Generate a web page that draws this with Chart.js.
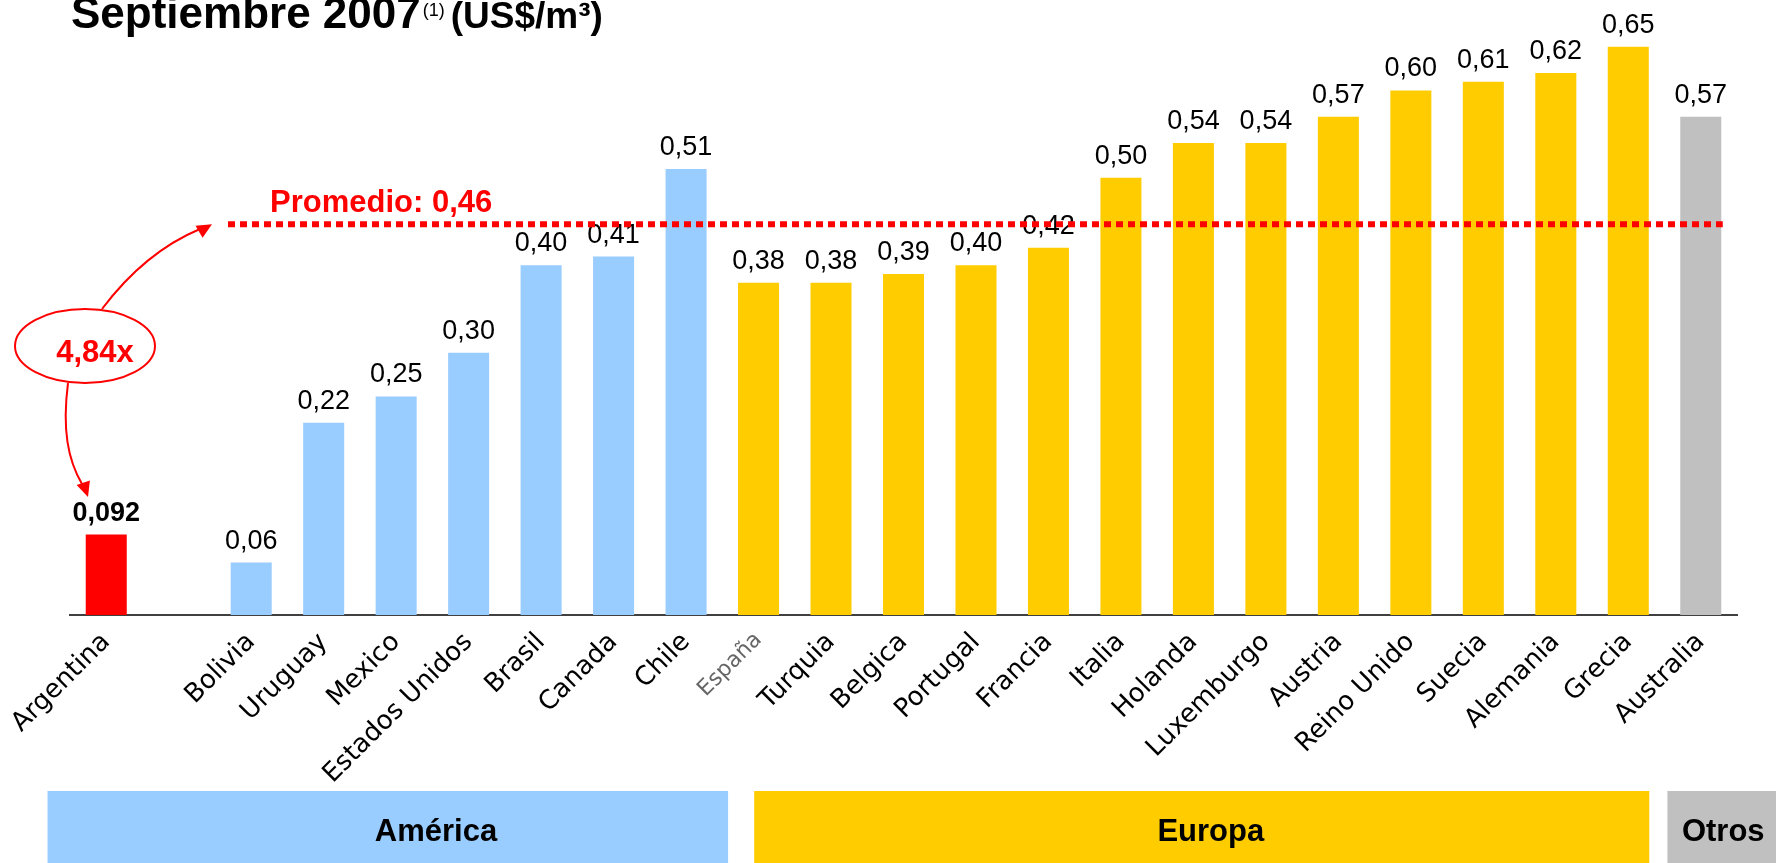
<!DOCTYPE html>
<html>
<head>
<meta charset="utf-8">
<script src="https://cdn.jsdelivr.net/npm/chart.js@4/dist/chart.umd.min.js"></script>
<style>
  html, body { margin: 0; padding: 0; background: #fff; }
  #wrap { width: 1776px; height: 863px; position: relative; }
</style>
</head>
<body>
<div id="wrap"><canvas id="myChart"></canvas></div>
<script>
// precio del gas natural por pais, septiembre 2007 (US$/m3)
const paises = ["Argentina", "", "Bolivia", "Uruguay", "Mexico", "Estados Unidos", "Brasil", "Canada", "Chile",
  "España", "Turquia", "Belgica", "Portugal", "Francia", "Italia", "Holanda", "Luxemburgo", "Austria",
  "Reino Unido", "Suecia", "Alemania", "Grecia", "Australia"];
const precios = [0.092, null, 0.06, 0.22, 0.25, 0.30, 0.40, 0.41, 0.51,
  0.38, 0.38, 0.39, 0.40, 0.42, 0.50, 0.54, 0.54, 0.57,
  0.60, 0.61, 0.62, 0.65, 0.57];
const grupo = ["ARG", null, "AME", "AME", "AME", "AME", "AME", "AME", "AME",
  "EUR", "EUR", "EUR", "EUR", "EUR", "EUR", "EUR", "EUR", "EUR",
  "EUR", "EUR", "EUR", "EUR", "OTR"];
const colores = { ARG: "#ff0000", AME: "#99ccff", EUR: "#ffcc00", OTR: "#c0c0c0" };

const promedioTexto = "Promedio: 0,46";
const promedioLinea = 0.447; // altura a la que esta dibujada la linea
const multiplo = "4,84x";

// bandas de regiones (indices de categoria, fraccionales)
const regiones = [
  { nombre: "América", desde: -0.81, hasta: 8.58, texto: 4.55, color: "#99ccff" },
  { nombre: "Europa", desde: 8.94, hasta: 21.29, texto: 15.24, color: "#ffcc00" },
  { nombre: "Otros", desde: 21.54, hasta: 23.2, texto: 22.31, color: "#c0c0c0" },
];

const FONT = "Arial, 'Liberation Sans', sans-serif";
const FONT_EJE = "'DejaVu Sans', Arial, sans-serif";

function formato(v) {
  const dec = Math.abs(v * 100 - Math.round(v * 100)) > 1e-6 ? 3 : 2;
  return v.toFixed(dec).replace(".", ",");
}

function flecha(ctx, x, y, ang) {
  ctx.save();
  ctx.translate(x, y);
  ctx.rotate(ang);
  ctx.beginPath();
  ctx.moveTo(0, 0);
  ctx.lineTo(-15, -7);
  ctx.lineTo(-15, 7);
  ctx.closePath();
  ctx.fill();
  ctx.restore();
}

const extras = {
  id: "extras",
  afterDatasetsDraw(chart) {
    const ctx = chart.ctx;
    const y = chart.scales.y;
    const meta = chart.getDatasetMeta(0);

    // etiquetas de valores
    ctx.save();
    ctx.textAlign = "center";
    ctx.textBaseline = "alphabetic";
    meta.data.forEach((bar, i) => {
      const v = precios[i];
      if (v == null) return;
      ctx.fillStyle = "#000";
      ctx.font = (i === 0 ? "bold 27px " : "27px ") + FONT;
      ctx.fillText(formato(v), bar.x, bar.y - 14);
    });
    ctx.restore();

    // linea de promedio
    const yp = y.getPixelForValue(promedioLinea);
    ctx.save();
    ctx.strokeStyle = "#ff0000";
    ctx.lineWidth = 6;
    ctx.setLineDash([7, 5]);
    ctx.beginPath();
    ctx.moveTo(228, yp);
    ctx.lineTo(meta.data[meta.data.length - 1].x + 22, yp);
    ctx.stroke();
    ctx.setLineDash([]);
    ctx.fillStyle = "#ff0000";
    ctx.font = "bold 31px " + FONT;
    ctx.textAlign = "left";
    ctx.fillText(promedioTexto, 270, yp - 12);

    // elipse con multiplo
    ctx.lineWidth = 2;
    ctx.beginPath();
    ctx.ellipse(85, 346, 70, 37, 0, 0, Math.PI * 2);
    ctx.stroke();
    ctx.font = "bold 31px " + FONT;
    ctx.textAlign = "center";
    ctx.fillText(multiplo, 95, 362);

    // flecha hacia el promedio
    ctx.beginPath();
    ctx.moveTo(102, 309);
    ctx.quadraticCurveTo(145, 252, 200, 229);
    ctx.stroke();
    flecha(ctx, 212, yp, Math.atan2(-7, 12));

    // flecha hacia argentina
    ctx.beginPath();
    ctx.moveTo(68, 383);
    ctx.bezierCurveTo(62, 430, 68, 460, 82, 484);
    ctx.stroke();
    flecha(ctx, 88, 497, Math.atan2(15, 5));
    ctx.restore();
  },
  afterDraw(chart) {
    const ctx = chart.ctx;
    const x = chart.scales.x;
    const paso = x.getPixelForValue(1) - x.getPixelForValue(0);
    const px = (f) => x.getPixelForValue(0) + f * paso;

    // titulo (cortado arriba)
    ctx.save();
    ctx.fillStyle = "#000";
    ctx.textAlign = "left";
    ctx.textBaseline = "alphabetic";
    ctx.font = "bold 44px " + FONT;
    const t1 = "Septiembre 2007";
    ctx.fillText(t1, 71, 28);
    let cx = 71 + ctx.measureText(t1).width + 2;
    ctx.font = "18px " + FONT;
    ctx.fillText("(1)", cx, 16);
    cx += ctx.measureText("(1)").width + 6;
    ctx.font = "bold 37px " + FONT;
    ctx.fillText("(US$/m³)", cx, 28);

    // bandas de regiones
    regiones.forEach((r) => {
      ctx.fillStyle = r.color;
      ctx.fillRect(px(r.desde), 791, px(r.hasta) - px(r.desde), 72);
      ctx.fillStyle = "#000";
      ctx.font = "bold 31px " + FONT;
      ctx.textAlign = "center";
      ctx.fillText(r.nombre, px(r.texto), 841);
    });
    ctx.restore();
  },
};

new Chart(document.getElementById("myChart"), {
  type: "bar",
  data: {
    labels: paises,
    datasets: [
      {
        data: precios,
        backgroundColor: grupo.map((g) => (g ? colores[g] : "transparent")),
        categoryPercentage: 1,
        barPercentage: 0.566,
      },
    ],
  },
  options: {
    responsive: true,
    maintainAspectRatio: false,
    animation: false,
    layout: { padding: { left: 70, right: 39, top: 3, bottom: 0 } },
    plugins: { legend: { display: false }, tooltip: { enabled: false }, title: { display: false } },
    scales: {
      y: { display: false, min: 0, max: 0.7 },
      x: {
        grid: { display: false },
        border: { display: true, color: "#404040", width: 2 },
        ticks: {
          autoSkip: false,
          minRotation: 45,
          maxRotation: 45,
          padding: 4,
          color: (c) => (c.index === 9 ? "#666" : "#000"),
          font: (c) => ({ family: FONT_EJE, size: c.index === 9 ? 22 : 26 }),
        },
        afterFit(scale) {
          scale.height = 248;
        },
      },
    },
  },
  plugins: [extras],
});
</script>
</body>
</html>
